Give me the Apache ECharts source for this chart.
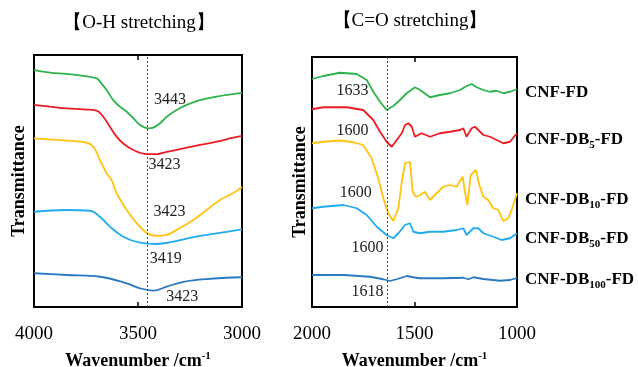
<!DOCTYPE html>
<html>
<head>
<meta charset="utf-8">
<script src="https://cdn.jsdelivr.net/npm/echarts@6/dist/echarts.min.js"></script>
<style>
html, body { margin: 0; padding: 0; background: #fff; }
#chart { width: 638px; height: 367px; }
</style>
</head>
<body>
<div id="chart"></div>
<script>
// [wavenumber, transmittance (a.u., offset)]
var ohFD = [[4000,94.0],[3923,93.0],[3843,92.5],[3763,91.7],[3699,90.7],[3683,89.4],[3651,86.1],[3619,82.1],[3587,79.5],[3554,77.5],[3522,74.9],[3490,72.2],[3450,70.9],[3426,71.2],[3394,72.9],[3362,75.5],[3314,78.2],[3266,80.2],[3202,82.1],[3122,83.5],[3042,84.5],[3000,85.0]];
var ohDB5 = [[4000,80.2],[3923,79.5],[3843,78.8],[3763,78.4],[3699,77.9],[3667,75.5],[3635,71.5],[3603,67.6],[3571,64.9],[3522,62.3],[3458,60.7],[3410,60.7],[3362,61.6],[3282,62.9],[3202,64.3],[3122,65.6],[3042,67.2],[3000,67.9]];
var ohDB10 = [[4000,66.9],[3923,66.5],[3843,66.0],[3747,65.2],[3715,63.6],[3683,58.3],[3651,53.1],[3627,50.4],[3603,45.2],[3554,38.5],[3506,33.3],[3458,29.4],[3410,28.2],[3362,28.6],[3314,30.6],[3234,34.5],[3170,38.5],[3106,42.5],[3042,45.2],[3000,47.6]];
var ohDB50 = [[4000,37.8],[3843,38.5],[3731,38.2],[3683,35.8],[3635,31.9],[3571,27.9],[3490,25.5],[3410,25.0],[3330,25.9],[3234,27.7],[3122,29.2],[3000,30.8]];
var ohDB100 = [[4000,13.4],[3843,12.7],[3683,12.0],[3554,9.4],[3490,7.4],[3426,6.5],[3362,8.1],[3282,10.0],[3170,11.1],[3000,11.8]];

var coFD = [[2000,91.2],[1945,92.4],[1863,93.7],[1782,93.2],[1733,90.8],[1701,86.1],[1668,82.1],[1636,78.8],[1603,80.4],[1571,82.8],[1538,85.5],[1498,87.9],[1473,86.8],[1424,83.9],[1376,84.8],[1327,85.5],[1278,86.8],[1246,88.4],[1221,89.2],[1197,87.9],[1164,86.8],[1132,86.1],[1099,86.5],[1067,85.5],[1034,86.1],[1000,87.1]];
var coDB5 = [[2000,79.1],[1945,79.9],[1831,79.9],[1750,78.8],[1701,74.8],[1668,70.1],[1636,66.1],[1611,64.1],[1587,66.8],[1562,69.5],[1546,72.8],[1530,73.5],[1513,72.1],[1498,68.1],[1465,69.5],[1424,68.1],[1376,69.5],[1327,70.1],[1278,70.8],[1262,71.5],[1246,68.1],[1221,71.5],[1205,72.1],[1180,70.1],[1164,68.8],[1132,68.1],[1099,66.8],[1067,65.5],[1034,66.1],[1000,69.5]];
var coDB10 = [[2000,65.5],[1945,66.1],[1863,66.6],[1799,65.9],[1750,64.8],[1709,59.5],[1677,51.5],[1652,43.5],[1628,37.5],[1603,34.4],[1579,39.5],[1562,50.1],[1546,57.5],[1522,58.1],[1509,46.1],[1493,44.1],[1473,44.8],[1449,46.1],[1424,42.8],[1392,45.5],[1360,48.1],[1327,48.8],[1294,48.1],[1265,52.1],[1254,46.1],[1242,40.8],[1226,52.8],[1200,54.8],[1184,48.8],[1164,44.1],[1140,42.8],[1116,39.5],[1091,38.8],[1067,34.4],[1042,35.5],[1018,40.8],[1000,45.5]];
var coDB50 = [[2000,39.5],[1945,40.1],[1847,40.8],[1782,39.5],[1733,36.8],[1684,32.1],[1636,28.8],[1603,27.5],[1579,29.5],[1546,32.8],[1522,33.5],[1506,30.1],[1473,29.5],[1424,30.1],[1360,30.1],[1294,30.8],[1262,31.5],[1246,28.8],[1213,31.5],[1189,31.5],[1164,29.5],[1116,28.1],[1075,26.8],[1034,27.5],[1000,29.5]];
var coDB100 = [[2000,12.8],[1847,12.8],[1717,12.1],[1652,11.1],[1620,10.4],[1587,11.1],[1538,12.4],[1506,11.9],[1473,11.5],[1360,11.5],[1262,11.7],[1237,11.1],[1213,11.9],[1164,11.2],[1083,10.5],[1034,10.8],[1000,11.6]];

// peak labels: [wavenumber, y, text]
var ohPeaks = [[3346,82.1,'3443'],[3373,56.3,'3423'],[3348,37.6,'3423'],[3366,19.3,'3419'],[3287,4.1,'3423']];
var coPeaks = [[1802,86.4,'1633'],[1802,70.4,'1600'],[1786,45.5,'1600'],[1729,23.5,'1600'],[1729,6.1,'1618']];

var sampleLabels = ['{b|CNF-FD}', '{b|CNF-DB}{s|5}{b|-FD}', '{b|CNF-DB}{s|10}{b|-FD}', '{b|CNF-DB}{s|50}{b|-FD}', '{b|CNF-DB}{s|100}{b|-FD}'];
var colors = ['#2db34b', '#ec1c24', '#ffc20e', '#20abec', '#2a77c2'];
var labelDy = [3, 6, 6, 5, 2];

var serif = "'Liberation Serif','Times New Roman',serif";

function spectrum(pts, i, grid, smooth) {
  var s = {
    type: 'line',
    xAxisIndex: grid * 2,
    yAxisIndex: grid,
    data: pts,
    symbol: 'none',
    smooth: smooth,
    lineStyle: { color: colors[i], width: 1.8 },
    itemStyle: { color: colors[i] },
    silent: true
  };
  if (grid == 1) {
    s.endLabel = {
      show: true,
      formatter: sampleLabels[i],
      align: 'left',
      verticalAlign: 'middle',
      distance: 0,
      offset: [8, labelDy[i]],
      rich: {
        b: { fontFamily: serif, fontWeight: 'bold', fontSize: 17, color: '#000', lineHeight: 22 },
        s: { fontFamily: serif, fontWeight: 'bold', fontSize: 11, color: '#000', lineHeight: 11, verticalAlign: 'bottom' }
      }
    };
  }
  return s;
}

function peaks(list, grid, dashAt) {
  return {
    type: 'line',
    xAxisIndex: grid * 2,
    yAxisIndex: grid,
    data: [],
    silent: true,
    markLine: {
      symbol: ['none', 'none'],
      label: { show: false },
      lineStyle: { color: '#444', width: 1, type: [2, 2] },
      data: [{ xAxis: dashAt }]
    },
    markPoint: {
      symbol: 'rect',
      symbolSize: 1,
      itemStyle: { color: 'rgba(0,0,0,0)' },
      label: { show: true, position: 'inside', formatter: '{b}', fontFamily: serif, fontSize: 16, color: '#222' },
      data: list.map(function (p) { return { name: p[2], coord: [p[0], p[1]] }; })
    }
  };
}

function xBottom(min, max, grid) {
  return {
    type: 'value', gridIndex: grid, inverse: true, min: min, max: max, interval: 500,
    position: 'bottom',
    axisLine: { show: false },
    axisTick: { show: true, inside: true, length: 5, lineStyle: { color: '#000', width: 1.5 } },
    axisLabel: { fontFamily: serif, fontSize: 19, color: '#000', margin: 18, formatter: function (v) { return String(v); } },
    splitLine: { show: false },
    name: '{a|Wavenumber /cm}{b|-1}',
    nameLocation: 'middle',
    nameGap: 44,
    nameTextStyle: {
      rich: {
        a: { fontFamily: serif, fontWeight: 'bold', fontSize: 18, color: '#000', lineHeight: 20 },
        b: { fontFamily: serif, fontWeight: 'bold', fontSize: 11, color: '#000', lineHeight: 10, verticalAlign: 'top' }
      }
    }
  };
}

function xTop(min, max, grid) {
  return {
    type: 'value', gridIndex: grid, inverse: true, min: min, max: max, interval: 500,
    position: 'top',
    axisLine: { show: false },
    axisTick: { show: true, inside: true, length: 5, lineStyle: { color: '#000', width: 1.5 } },
    axisLabel: { show: false },
    splitLine: { show: false }
  };
}

function yAxis(grid, gap) {
  return {
    type: 'value', gridIndex: grid, min: 0, max: 100,
    axisLine: { show: false }, axisTick: { show: false }, axisLabel: { show: false },
    splitLine: { show: false },
    name: 'Transmittance', nameLocation: 'middle', nameRotate: 90, nameGap: gap,
    nameTextStyle: { fontFamily: serif, fontWeight: 'bold', fontSize: 18, color: '#000' }
  };
}

var chart = echarts.init(document.getElementById('chart'));

var series = [];
[ohFD, ohDB5, ohDB10, ohDB50, ohDB100].forEach(function (d, i) { series.push(spectrum(d, i, 0, 0.4)); });
[coFD, coDB5, coDB10, coDB50, coDB100].forEach(function (d, i) { series.push(spectrum(d, i, 1, false)); });
series.push(peaks(ohPeaks, 0, 3455));
series.push(peaks(coPeaks, 1, 1633));

chart.setOption({
  backgroundColor: '#fff',
  animation: false,
  grid: [
    { left: 34, top: 55, width: 208, height: 252, outerBoundsMode: 'none', containLabel: false, show: true, borderColor: '#000', borderWidth: 2, backgroundColor: 'transparent' },
    { left: 312, top: 57, width: 205, height: 250, outerBoundsMode: 'none', containLabel: false, show: true, borderColor: '#000', borderWidth: 2, backgroundColor: 'transparent' }
  ],
  xAxis: [xBottom(3000, 4000, 0), xTop(3000, 4000, 0), xBottom(1000, 2000, 1), xTop(1000, 2000, 1)],
  yAxis: [yAxis(0, 6), yAxis(1, 3)],
  graphic: [
    { type: 'text', x: 139, y: 23, style: { text: '【O-H stretching】', font: '19px ' + serif, fill: '#000', textAlign: 'center', textVerticalAlign: 'middle' } },
    { type: 'text', x: 410, y: 21, style: { text: '【C=O stretching】', font: '19px ' + serif, fill: '#000', textAlign: 'center', textVerticalAlign: 'middle' } }
  ],
  series: series
});
</script>
</body>
</html>
